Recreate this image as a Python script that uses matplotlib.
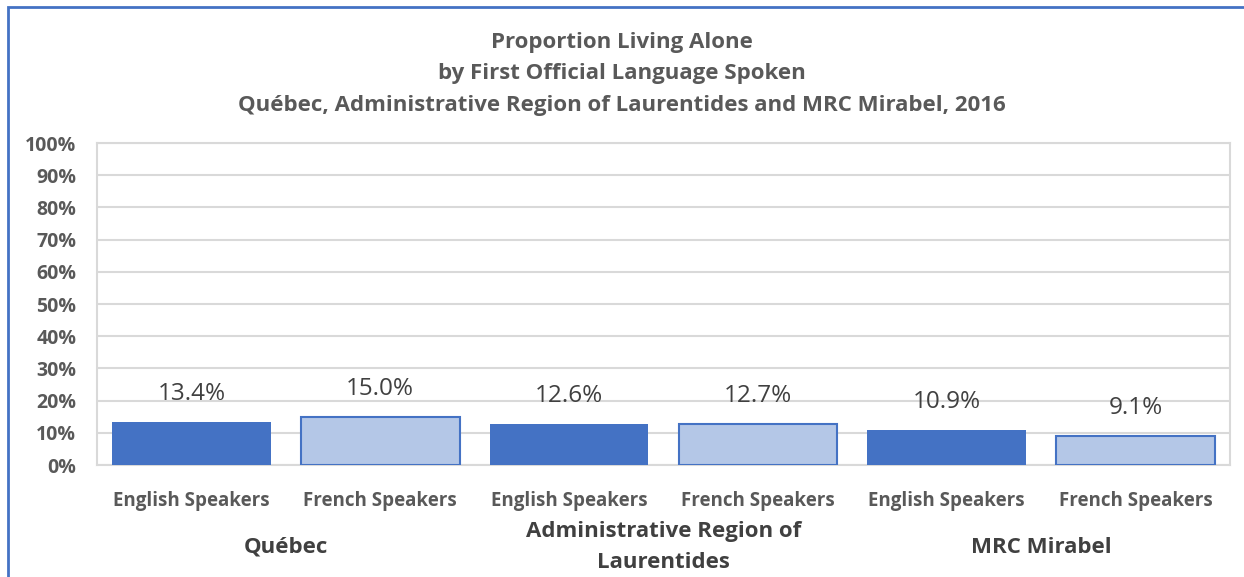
import numpy as np
import matplotlib.pyplot as plt
from matplotlib.patches import Rectangle
from matplotlib.ticker import MultipleLocator, PercentFormatter

speakers = ['English Speakers', 'French Speakers'] * 3
regions = ['Québec', 'Administrative Region of\nLaurentides', 'MRC Mirabel']
values = [13.4, 15.0, 12.6, 12.7, 10.9, 9.1]
title_lines = ['Proportion Living Alone',
               'by First Official Language Spoken',
               'Québec, Administrative Region of Laurentides and MRC Mirabel, 2016']

DARK = '#4472C4'
LIGHT = '#B4C7E7'
GREY = '#595959'

plt.rcParams['font.family'] = ['Open Sans', 'DejaVu Sans']

fig = plt.figure(figsize=(12.44, 5.77), dpi=100)
ax = fig.add_axes([0.078, 0.194, 0.9107, 0.558])

x = np.arange(len(values))
colors = [DARK if i % 2 == 0 else LIGHT for i in range(len(values))]
lws = [0 if i % 2 == 0 else 1.5 for i in range(len(values))]
bars = ax.bar(x, values, width=0.84, color=colors, edgecolor=DARK, linewidth=lws, zorder=3)

for b, v in zip(bars, values):
  ax.annotate(f'{v:.1f}%', (b.get_x() + b.get_width() / 2, v), xytext=(0, 28),
              textcoords='offset pixels', ha='center', va='center',
              fontsize=17.5, color='#404040', zorder=4)

ax.set_xlim(-0.5, len(values) - 0.5)
ax.set_ylim(0, 100)
ax.yaxis.set_major_locator(MultipleLocator(10))
ax.yaxis.set_major_formatter(PercentFormatter(decimals=0))
ax.grid(axis='y', color='#D9D9D9', linewidth=1.5, zorder=0)
for s in ax.spines.values():
  s.set_color('#D9D9D9')
  s.set_linewidth(1.5)
ax.tick_params(axis='both', length=0, colors=GREY)
ax.tick_params(axis='y', labelsize=14, pad=15)
ax.tick_params(axis='x', labelsize=13.5, pad=19)
for lab in ax.get_yticklabels():
  lab.set_fontweight('bold')

ax.set_xticks(x)
ax.set_xticklabels(speakers, fontweight='bold', color=GREY)

# region names under each pair of bars
tr = ax.get_xaxis_transform()
for i, r in enumerate(regions):
  ax.text(2 * i + 0.5, -0.255, r, transform=tr, ha='center', va='center',
          fontsize=16, fontweight='bold', color='#404040', linespacing=1.65)

for line, y in zip(title_lines, [0.927, 0.873, 0.818]):
  fig.text(0.5, y, line, ha='center', va='center', fontsize=16,
           fontweight='bold', color=GREY)

fig.patches.append(Rectangle((8 / 1244, -0.1), 1.2, 1.1 - 7 / 577, transform=fig.transFigure,
                             fill=False, edgecolor=DARK, linewidth=2))

fig.savefig('out.png', dpi=100)
